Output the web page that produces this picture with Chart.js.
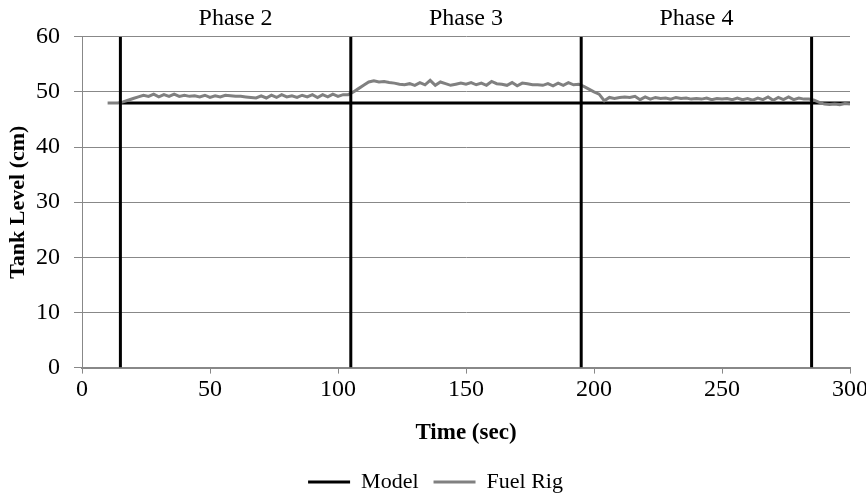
<!DOCTYPE html>
<html>
<head>
<meta charset="utf-8">
<script src="https://cdn.jsdelivr.net/npm/chart.js@4.4.1/dist/chart.umd.min.js"></script>
<style>
  html, body { margin: 0; padding: 0; background: #fff; }
  #wrap { width: 866px; height: 503px; }
</style>
</head>
<body>
<div id="wrap"><canvas id="tank-level"></canvas></div>
<script>
var phaseBoundaries = [15, 105, 195, 285];
var phaseLabels = ["Phase 2", "Phase 3", "Phase 4"];
var phaseCenters = [60, 150, 240];

var modelTime = [15, 300];
var modelLevel = [48, 48];

var fuelTime = [
	10, 12, 14, 16, 18, 20, 22, 24, 26, 28, 30, 32, 34, 36, 38, 40, 42, 44, 46, 48,
	50, 52, 54, 56, 58, 60, 62, 64, 66, 68, 70, 72, 74, 76, 78, 80, 82, 84, 86, 88,
	90, 92, 94, 96, 98, 100, 102, 104, 106, 108, 110, 112, 114, 116, 118, 120, 122, 124, 126, 128,
	130, 132, 134, 136, 138, 140, 142, 144, 146, 148, 150, 152, 154, 156, 158, 160, 162, 164, 166, 168,
	170, 172, 174, 176, 178, 180, 182, 184, 186, 188, 190, 192, 194, 196, 198, 200, 202, 204, 206, 208,
	210, 212, 214, 216, 218, 220, 222, 224, 226, 228, 230, 232, 234, 236, 238, 240, 242, 244, 246, 248,
	250, 252, 254, 256, 258, 260, 262, 264, 266, 268, 270, 272, 274, 276, 278, 280, 282, 284, 286, 288,
	290, 292, 294, 296, 298, 300
];
var fuelLevel = [
	48.0, 48.0, 48.0, 48.2, 48.5, 48.8, 49.1, 49.4, 49.2, 49.6, 49.1, 49.5, 49.2, 49.6, 49.2, 49.4, 49.2, 49.3, 49.1, 49.4,
	49.0, 49.3, 49.1, 49.4, 49.3, 49.2, 49.2, 49.1, 49.0, 48.9, 49.3, 48.9, 49.4, 49.0, 49.5, 49.1, 49.3, 49.0, 49.4, 49.1,
	49.5, 49.0, 49.5, 49.1, 49.6, 49.2, 49.5, 49.5, 50.0, 50.6, 51.2, 51.8, 52.0, 51.8, 51.9, 51.7, 51.6, 51.4, 51.3, 51.5,
	51.2, 51.7, 51.3, 52.1, 51.2, 51.8, 51.5, 51.2, 51.4, 51.6, 51.4, 51.7, 51.3, 51.6, 51.2, 51.9, 51.5, 51.4, 51.2, 51.7,
	51.1, 51.6, 51.5, 51.3, 51.3, 51.2, 51.5, 51.1, 51.6, 51.2, 51.7, 51.3, 51.4, 51.0, 50.5, 50.0, 49.6, 48.4, 49.0, 48.8,
	49.0, 49.1, 49.0, 49.2, 48.6, 49.1, 48.7, 49.0, 48.8, 48.9, 48.7, 49.0, 48.8, 48.9, 48.7, 48.8, 48.7, 48.9, 48.6, 48.8,
	48.7, 48.8, 48.6, 48.9, 48.6, 48.8, 48.5, 48.9, 48.6, 49.1, 48.5, 49.0, 48.6, 49.1, 48.6, 48.9, 48.7, 48.7, 48.5, 48.1,
	47.8, 47.7, 47.8, 47.7, 47.9, 47.8
];

var xTicks = [0, 50, 100, 150, 200, 250, 300];
var yTicks = [0, 10, 20, 30, 40, 50, 60];

function toPoints(xs, ys) {
	return xs.map(function(x, i) { return { x : x, y : ys[i] }; });
}

var serif = "'Liberation Serif', 'Times New Roman', serif";
Chart.defaults.font.family = serif;
Chart.defaults.font.size = 22;
Chart.defaults.color = "#000";

var datasets = [
	{
		label : "Model",
		data : toPoints(modelTime, modelLevel),
		borderColor : "#000",
		backgroundColor : "#000",
		borderWidth : 3,
		pointRadius : 0,
		order : 3
	},
	{
		label : "Fuel Rig",
		data : toPoints(fuelTime, fuelLevel),
		borderColor : "#808080",
		backgroundColor : "#808080",
		borderWidth : 3,
		pointRadius : 0,
		order : 2
	}
];

// phase boundary markers
phaseBoundaries.forEach(function(b) {
	datasets.push({
		label : "boundary",
		data : [ { x : b, y : 0 }, { x : b, y : 60 } ],
		borderColor : "#000",
		borderWidth : 3,
		pointRadius : 0,
		order : 1
	});
});

var chart = new Chart(document.getElementById("tank-level"), {
	type : "line",
	data : { datasets : datasets },
	options : {
		responsive : true,
		maintainAspectRatio : false,
		animation : false,
		layout : { padding : { left : 5, right : 0, top : 0, bottom : 0 } },
		plugins : {
			tooltip : { enabled : false },
			legend : {
				display : true,
				position : "bottom",
				labels : {
					usePointStyle : true,
					pointStyle : "line",
					pointStyleWidth : 42,
					padding : 15,
					color : "#000",
					font : { size : 22 },
					filter : function(item) { return item.text !== "boundary"; },
					sort : function(a, b) { return a.datasetIndex - b.datasetIndex; }
				}
			}
		},
		scales : {
			x : {
				type : "linear",
				position : "bottom",
				min : 0,
				max : 300,
				afterBuildTicks : function(axis) {
					axis.ticks = xTicks.map(function(v) { return { value : v }; });
				},
				afterFit : function(axis) {
					axis.paddingRight = 16;
				},
				grid : { drawOnChartArea : false, drawTicks : true, tickLength : 6, color : "#888" },
				border : { color : "#888", width : 2 },
				ticks : { padding : 2, maxRotation : 0, font : { size : 24 } },
				title : { display : true, text : "Time (sec)", font : { size : 23, weight : "bold" }, padding : { top : 13, bottom : 9 } }
			},
			x2 : {
				type : "linear",
				position : "top",
				min : 0,
				max : 300,
				afterBuildTicks : function(axis) {
					axis.ticks = phaseCenters.map(function(v) { return { value : v }; });
				},
				grid : { display : false, drawTicks : false, tickLength : 0 },
				border : { display : false },
				ticks : {
					padding : 4,
					maxRotation : 0,
					autoSkip : false,
					font : { size : 24 },
					callback : function(value) {
						return phaseLabels[phaseCenters.indexOf(value)];
					}
				}
			},
			y : {
				min : 0,
				max : 60,
				afterBuildTicks : function(axis) {
					axis.ticks = yTicks.map(function(v) { return { value : v }; });
				},
				afterFit : function(axis) {
					axis.width = 77;
				},
				grid : { color : "#888", tickLength : 8, lineWidth : 1 },
				border : { color : "#888", width : 1 },
				ticks : { padding : 14, font : { size : 24 } },
				title : { display : true, text : "Tank Level (cm)", font : { size : 22, weight : "bold" }, padding : { top : 0, bottom : 4 } }
			}
		}
	}
});
</script>
</body>
</html>
